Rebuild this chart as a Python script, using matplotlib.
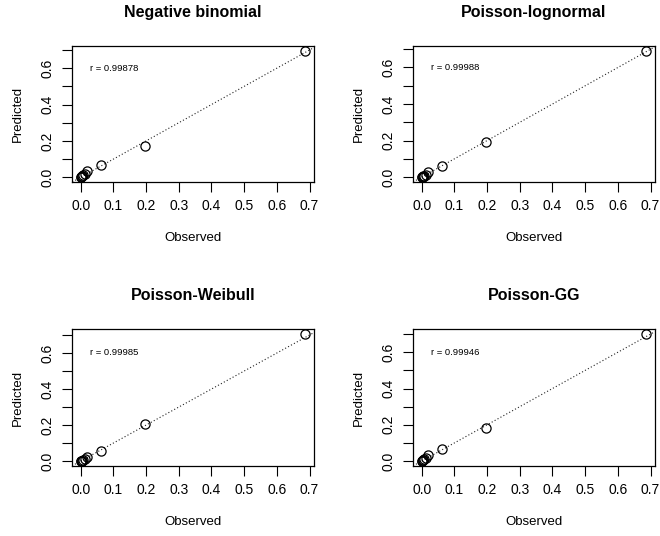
import numpy as np
import matplotlib.pyplot as plt

plt.rcParams["font.family"] = ["Liberation Sans", "DejaVu Sans"]

# observed proportions (same for every model)
observed = [0.686, 0.197, 0.063, 0.020, 0.012, 0.006, 0.004, 0.003, 0.002, 0.001]

# predicted proportions per model
pred_nb = [0.694, 0.171, 0.069, 0.034, 0.018, 0.012, 0.008, 0.005, 0.003, 0.002]
pred_pln = [0.690, 0.192, 0.061, 0.026, 0.014, 0.008, 0.005, 0.003, 0.002, 0.001]
pred_pw = [0.705, 0.206, 0.058, 0.022, 0.011, 0.005, 0.003, 0.002, 0.001, 0.001]
pred_pgg = [0.700, 0.180, 0.066, 0.031, 0.016, 0.010, 0.006, 0.004, 0.002, 0.001]

titles = ["Negative binomial", "Poisson-lognormal", "Poisson-Weibull", "Poisson-GG"]
r_values = ["0.99878", "0.99988", "0.99985", "0.99946"]
predictions = [pred_nb, pred_pln, pred_pw, pred_pgg]

x_ticks = [0.0, 0.1, 0.2, 0.3, 0.4, 0.5, 0.6, 0.7]
y_ticks = [0.0, 0.1, 0.2, 0.3, 0.4, 0.5, 0.6, 0.7]

####################################
W, H = 660, 536
fig = plt.figure(figsize=(W / 100, H / 100), dpi=100)

# panel boxes in pixels: left, top, right, bottom
boxes = [
    (72, 46, 314, 182),
    (413, 46, 655, 182),
    (72, 329, 314, 466),
    (413, 329, 655, 466),
]
px = 0.72  # points per pixel at dpi 100

for (l, t, r, b), title, rv, pred in zip(boxes, titles, r_values, predictions):
    ax = fig.add_axes([l / W, 1 - b / H, (r - l) / W, (b - t) / H])
    obs = np.array(observed)
    prd = np.array(pred)

    # R style axis padding (4 %)
    xr = obs.max() - obs.min()
    yr = prd.max() - prd.min()
    ax.set_xlim(obs.min() - 0.04 * xr, obs.max() + 0.04 * xr)
    ax.set_ylim(prd.min() - 0.04 * yr, prd.max() + 0.04 * yr)

    ax.axline((0, 0), slope=1, color="#222222", lw=0.8, ls=(0, (1, 2.0)), zorder=1)
    ax.plot(obs, prd, "o", mfc="none", mec="black", ms=6.6, mew=0.9, zorder=2)

    ax.text(0.028, 0.6, "r = " + rv, fontsize=6.8, ha="left", va="center")

    ax.set_xticks(x_ticks)
    ax.set_xticklabels(["%.1f" % v for v in x_ticks])
    ax.set_yticks(y_ticks)
    ax.set_yticklabels(["%.1f" % v if i % 2 == 0 else "" for i, v in enumerate(y_ticks)],
                       rotation=90, va="center")
    ax.tick_params(axis="both", direction="out", length=7, width=0.8, labelsize=10, pad=5.5)
    for s in ax.spines.values():
        s.set_linewidth(0.9)

    ax.annotate(title, (0.5, 1), xycoords="axes fraction", xytext=(0, 33 * px),
                textcoords="offset points", ha="center", va="center",
                fontsize=11.5, fontweight="bold")
    ax.annotate("Observed", (0.5, 0), xycoords="axes fraction", xytext=(0, -56 * px),
                textcoords="offset points", ha="center", va="center", fontsize=9.5)
    ax.annotate("Predicted", (0, 0.5), xycoords="axes fraction", xytext=(-54 * px, 0),
                textcoords="offset points", ha="center", va="center", fontsize=9.5,
                rotation=90)

plt.savefig("out.png", dpi=100)
